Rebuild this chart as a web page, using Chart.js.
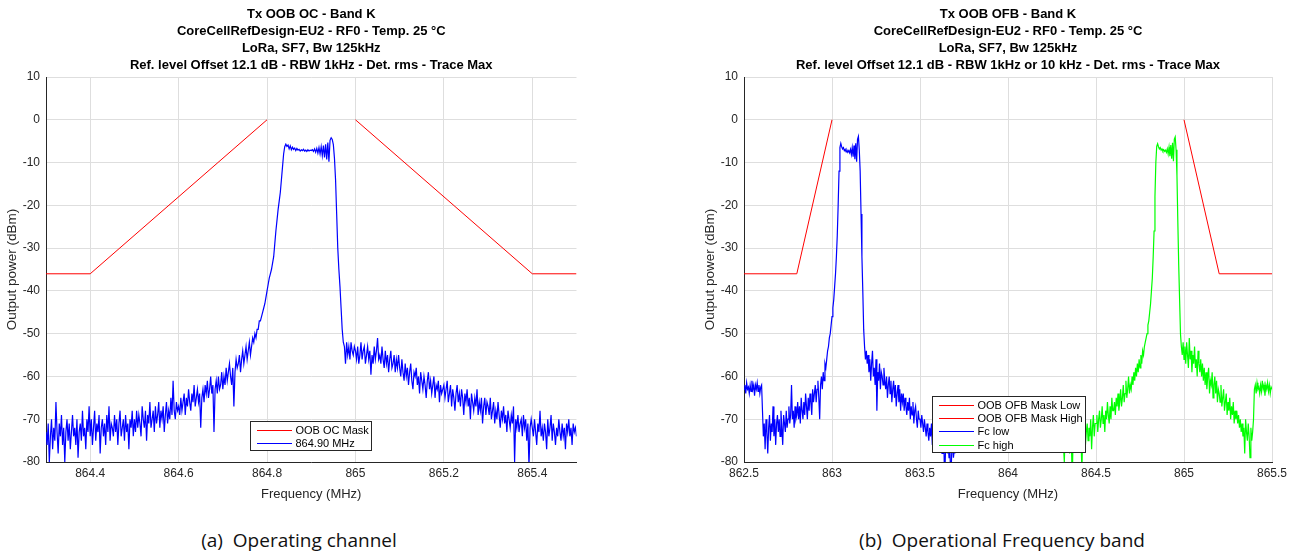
<!DOCTYPE html>
<html><head><meta charset="utf-8">
<script src="https://cdn.jsdelivr.net/npm/chart.js@4.4.1/dist/chart.umd.min.js"></script>
<style>
html,body{margin:0;padding:0;background:#fff;}
body{width:1298px;height:555px;position:relative;overflow:hidden;}
#w1{position:absolute;left:0;top:0;width:620px;height:505px;}
#w2{position:absolute;left:698px;top:0;width:600px;height:505px;}
.cap{position:absolute;top:528px;font-family:"Open Sans",sans-serif;font-size:19px;line-height:24px;color:#111;white-space:pre;transform:translateX(-50%);}
</style></head>
<body>
<div id="w1"><canvas id="c1" width="620" height="505" style="width:620px;height:505px"></canvas></div>
<div id="w2"><canvas id="c2" width="600" height="505" style="width:600px;height:505px"></canvas></div>
<div class="cap" style="left:299px">(a)  Operating channel</div>
<div class="cap" style="left:1002px">(b)  Operational Frequency band</div>
<script>
// ---------- Data ----------
const titleA = ["Tx OOB OC - Band K","CoreCellRefDesign-EU2 - RF0 - Temp. 25 \u00B0C","LoRa, SF7, Bw 125kHz","Ref. level Offset 12.1 dB - RBW 1kHz - Det. rms - Trace Max"];
const titleB = ["Tx OOB OFB - Band K","CoreCellRefDesign-EU2 - RF0 - Temp. 25 \u00B0C","LoRa, SF7, Bw 125kHz","Ref. level Offset 12.1 dB - RBW 1kHz or 10 kHz - Det. rms - Trace Max"];
const xLabel = "Frequency (MHz)";
const yLabel = "Output power (dBm)";
const yTicks = [-80,-70,-60,-50,-40,-30,-20,-10,0,10];
const xTicksA = [864.4,864.6,864.8,865,865.2,865.4];
const xTicksB = [862.5,863,863.5,864,864.5,865,865.5];

// (a) mask
const maskAFreq  = [864.3,864.4,864.8,864.9,865.0,865.4,865.5];
const maskALevel = [-36,-36,0,null,0,-36,-36];
// (a) trace 864.90 MHz : sweep start / step (MHz) and measured power (dBm)
const traceAStart = 864.3, traceAStep = 0.0025;
const traceAPower = [
 -73,-76,-71,-80,-74,-70,-77,-72,-75,-66,-73,-78,-71,-74,-69,-76,-72,-80,-73,-70,
 -75,-71,-77,-73,-69,-74,-72,-76,-70,-79,-73,-71,-75,-68,-74,-72,-77,-70,-73,-67,
 -74,-70,-76,-72,-68,-75,-71,-73,-69,-78,-72,-70,-74,-71,-76,-69,-73,-67,-75,-71,
 -72,-74,-69,-73,-70,-76,-71,-68,-74,-72,-70,-75,-69,-73,-71,-77,-70,-72,-68,-74,
 -70,-73,-68,-72,-69,-71,-74,-67,-70,-72,-68,-75,-69,-71,-66,-72,-70,-68,-73,-67,
 -71,-69,-66,-72,-68,-70,-67,-73,-69,-66,-71,-68,-70,-65,-69,-61,-68,-70,-66,-68,
 -67,-69,-65,-68,-66,-64,-69,-65,-67,-63,-66,-68,-64,-66,-62,-67,-65,-63,-66,-64,
 -72,-65,-63,-66,-62,-64,-61,-65,-63,-60,-64,-62,-73,-63,-61,-64,-60,-63,-62,-59,
 -63,-60,-62,-58,-61,-59,-57,-60,-62,-58,-67,-59,-56,-58,-57,-55,-59,-56,-54,-57,
 -55,-53,-56,-54,-52,-55,-53,-51,-52,-50,-51,-49,-49,-47,-47,-46,-45,-44,-43,-41.5,
 -40,-38.5,-37,-36,-35,-33.5,-32,-29,-26,-23.5,-21,-19,-17,-14,-11,-8,-6.3,-5.7,-6.2,-5.9,
 -6.8,-6.1,-7.0,-6.4,-6.9,-6.6,-7.2,-6.7,-7.1,-6.9,-7.3,-7.0,-7.2,-6.9,-7.3,-7.1,-7.4,-7.0,-7.3,-7.1,
 -7.2,-7.0,-7.4,-6.8,-7.6,-6.7,-7.8,-6.5,-8.0,-6.3,-8.4,-6.0,-8.8,-5.7,-9.3,-5.3,-9.8,-4.8,-4.2,-4.6,
 -5.8,-9,-14,-22,-30,-35,-39,-44,-49,-52,-53,-57,-52,-55,-53,-56,-52,-54,-55,-53,
 -54,-56,-53,-57,-55,-52,-56,-54,-53,-57,-55,-53,-56,-54,-59.6,-55,-57,-53,-56,-54,
 -51,-56,-55,-57,-53,-56,-58,-54,-57,-55,-59,-56,-54,-58,-57,-55,-59,-56,-58,-55,
 -58,-60,-56,-59,-61,-57,-60,-58,-62,-59,-57,-61,-63,-59,-60,-58,-62,-60,-64,-59,
 -61,-63,-60,-62,-65,-61,-59,-63,-61,-64,-62,-60,-65,-62,-63,-61,-66,-62,-64,-63,
 -62,-65,-63,-61,-66,-64,-62,-67,-63,-65,-68,-64,-62,-66,-64,-67,-63,-65,-69,-64,
 -66,-63,-67,-65,-70,-64,-66,-68,-65,-67,-63,-69,-66,-68,-65,-71,-67,-65,-69,-66,
 -67,-69,-65,-70,-68,-66,-71,-68,-70,-66,-69,-72,-68,-70,-67,-71,-69,-73,-68,-70,
 -72,-69,-71,-67,-80,-70,-72,-69,-73,-71,-70,-74,-69,-72,-70,-75,-71,-81,-72,-70,
 -72,-74,-70,-73,-76,-71,-73,-68,-74,-72,-75,-71,-73,-77,-70,-74,-72,-69,-75,-71,
 -73,-76,-72,-74,-70,-73,-75,-71,-74,-72,-77,-71,-73,-70,-74,-72,-76,-71,-73,-72,-74
];

// (b) masks
const maskLowFreq   = [862.5,862.8,863.0];
const maskLowLevel  = [-36,-36,0];
const maskHighFreq  = [865.0,865.2,865.5];
const maskHighLevel = [0,-36,-36];
// (b) Fc low trace
const fcLowStart = 862.5, fcLowStep = 0.005;
const fcLowPower = [
 -63,-62,-64,-61.5,-63,-62.5,-64,-62,-63.5,-61,-63,-62,-64.5,-62,-63,-61.5,-63.5,-62,-64,-62.5,
 -62,-68,-74,-71,-77,-70,-73,-78,-72,-69,-75,-71,-73,-67,-74,-70,-76,-71,-69,-73,
 -70,-74,-68,-72,-76,-69,-71,-73,-68,-72,-70,-67,-71,-69,-62,-70,-68,-72,-67,-70,
 -69,-66,-70,-67,-71,-65,-68,-70,-66,-69,-64,-67,-70,-65,-68,-64,-66,-69,-63,-66,
 -64,-62,-66,-63,-61,-65,-70,-62,-60,-63,-59,-61,-57,-58,-56,-54,-53,-51,-50,-48,
 -46,-44,-42,-39,-36,-32,-27,-20,-12,-6.5,-5.5,-6.3,-6.8,-6.5,-7.2,-6.9,-7.5,-7.1,-7.6,-7.2,
 -7.7,-6.9,-8.1,-6.5,-8.6,-6.0,-9.2,-5.5,-9.8,-4.6,-3.9,-7,-12,-22,-32,-40,-49,-53,-56,-54,
 -57,-55,-59,-56,-61,-57,-54,-60,-58,-62,-56,-68,-59,-61,-57,-63,-59,-60,-62,-58,
 -61,-63,-60,-65,-62,-60,-64,-61,-66,-63,-61,-65,-62,-67,-64,-62,-66,-63,-68,-64,
 -66,-64,-68,-65,-67,-69,-66,-68,-65,-70,-67,-69,-66,-71,-68,-67,-70,-72,-68,-70,
 -70,-72,-69,-71,-73,-70,-72,-74,-71,-73,-75,-72,-74,-71,-76,-73,-75,-72,-77,-74,
 -74,-76,-73,-77,-75,-78,-76,-74,-85,-77,-75,-78,-76,-79,-77,-85,-78,-76,-79,-77,-78
];
// (b) Fc high trace
const fcHighStart = 864.3, fcHighStep = 0.005;
const fcHighPower = [
 -74,-77,-72,-76,-80,-73,-75,-71,-77,-74,-78,-72,-75,-85,-73,-76,-74,-71,-77,-75,
 -73,-76,-71,-75,-82,-72,-74,-70,-76,-73,-71,-75,-72,-74,-70,-77,-72,-69,-74,-71,
 -71,-69,-73,-70,-68,-72,-70,-67,-71,-69,-73,-68,-70,-66,-69,-71,-67,-70,-65,-68,
 -68,-66,-69,-65,-67,-64,-68,-66,-63,-67,-65,-62,-66,-64,-61,-65,-63,-60,-64,-62,
 -63,-60,-62,-59,-61,-58,-60,-57,-59,-56,-58,-55,-57,-54,-55,-53,-52,-51,-50,-48,
 -47,-45,-43,-40,-37,-32,-26,-18,-10,-6.2,-5.6,-6.3,-6.8,-6.5,-7.1,-6.8,-7.3,-7.0,-7.4,-7.1,
 -7.6,-6.8,-8.0,-6.4,-8.5,-5.9,-9.1,-5.4,-9.7,-4.5,-4.0,-7,-13,-24,-34,-42,-50,-53,-55,-52,
 -56,-53,-57,-52,-55,-58,-51,-56,-54,-59,-55,-57,-53,-58,-56,-60,-54,-57,-59,-56,
 -60,-57,-61,-58,-62,-59,-63,-60,-58,-64,-61,-62,-59,-65,-62,-60,-64,-61,-66,-63,
 -64,-66,-62,-67,-65,-63,-68,-66,-64,-69,-66,-68,-65,-70,-67,-69,-66,-71,-68,-70,
 -68,-71,-69,-72,-70,-73,-71,-74,-72,-78,-70,-73,-75,-71,-74,-79,-72,-75,-73,-70,
 -63,-62,-64,-61.5,-63,-62.5,-64,-62,-63.5,-61,-63,-62,-64.5,-62,-63,-61.5,-63.5,-62,-64,-62.5,-63
];

// ---------- Helpers ----------
const pairs = (xs, ys) => xs.map((x,i) => ({x:x, y:ys[i]}));
const sweep = (start, step, ys) => ys.map((y,i) => ({x: start + i*step, y:y}));
const fmt = v => String(+Number(v).toFixed(3));

Chart.defaults.font.family = '"Liberation Sans", Arial, Helvetica, sans-serif';
Chart.defaults.color = '#262626';

const innerLegend = {
  id: 'innerLegend',
  afterDraw(chart, args, opts) {
    const {ctx, chartArea} = chart;
    const items = chart.data.datasets;
    ctx.save();
    ctx.font = '11px "Liberation Sans", Arial, sans-serif';
    const rowH = 13.4, top0 = 8.5;
    let maxW = 0;
    items.forEach(d => { maxW = Math.max(maxW, ctx.measureText(d.label).width); });
    const w = Math.round(45 + maxW + 3);
    const h = Math.round(top0*2 + rowH*(items.length-1) - 1);
    const x = Math.round(chartArea.left + opts.dx);
    const y = Math.round(chartArea.bottom - opts.dy - h);
    ctx.fillStyle = '#ffffff';
    ctx.fillRect(x, y, w, h);
    ctx.strokeStyle = '#262626';
    ctx.lineWidth = 1;
    ctx.strokeRect(x + 0.5, y + 0.5, w, h);
    items.forEach((d,i) => {
      const cy = Math.round(y + top0 + i*rowH);
      ctx.fillStyle = d.borderColor;
      ctx.fillRect(x + 7, cy, 35, 1);
      ctx.fillStyle = '#000000';
      ctx.textBaseline = 'middle';
      ctx.textAlign = 'left';
      ctx.fillText(d.label, x + 45.5, cy + 0.5);
    });
    ctx.restore();
  }
};

function makeOptions(title, xMin, xMax, xTicks, padRight, legendPos) {
  return {
    responsive: false, animation: false, devicePixelRatio: 1,
    layout: { padding: { left: 0, right: padRight, top: 0, bottom: 0 } },
    plugins: {
      legend: { display: false },
      tooltip: { enabled: false },
      title: {
        display: true, text: title, fullSize: false, color: '#000',
        font: { size: 13, weight: 'bold', lineHeight: 1.285 },
        padding: { top: 6.5, bottom: 3.7 }
      },
      innerLegend: legendPos
    },
    elements: { point: { radius: 0 }, line: { tension: 0, borderWidth: 1 } },
    scales: {
      x: {
        type: 'linear', min: xMin, max: xMax,
        afterBuildTicks: s => { s.ticks = xTicks.map(v => ({ value: v })); },
        afterFit: s => { s.height = 43; },
        grid: { color: '#dedede', lineWidth: 1, drawTicks: false },
        border: { color: '#262626', width: 1 },
        ticks: { color: '#262626', font: { size: 12 }, padding: 4, maxRotation: 0, autoSkip: false, callback: v => fmt(v) },
        title: { display: true, text: xLabel, color: '#262626', font: { size: 13 }, padding: { top: 0, bottom: 3 } }
      },
      y: {
        type: 'linear', min: -80, max: 10,
        afterBuildTicks: s => { s.ticks = yTicks.map(v => ({ value: v })); },
        afterFit: s => { s.width = 46; },
        grid: { color: '#dedede', lineWidth: 1, drawTicks: false },
        border: { color: '#262626', width: 1 },
        ticks: { color: '#262626', font: { size: 12 }, padding: 6, autoSkip: false, callback: v => fmt(v) },
        title: { display: true, text: yLabel, color: '#262626', font: { size: 13.5 }, padding: { top: 4, bottom: 0 } }
      }
    }
  };
}

const ds = (label, data, color, order, width) => ({ label, data, order, borderColor: color, backgroundColor: color, borderWidth: width, pointRadius: 0, fill: false, spanGaps: false });

new Chart(document.getElementById('c1'), {
  type: 'line',
  data: { datasets: [
    ds('OOB OC Mask', pairs(maskAFreq, maskALevel), '#ff0000', 2, 1),
    ds('864.90 MHz', sweep(traceAStart, traceAStep, traceAPower), '#0000ff', 1, 1.2)
  ]},
  options: makeOptions(titleA, 864.3, 865.5, xTicksA, 43.5, { dx: 204, dy: 12 }),
  plugins: [innerLegend]
});

new Chart(document.getElementById('c2'), {
  type: 'line',
  data: { datasets: [
    ds('OOB OFB Mask Low', pairs(maskLowFreq, maskLowLevel), '#ff0000', 4, 1),
    ds('OOB OFB Mask High', pairs(maskHighFreq, maskHighLevel), '#ff0000', 3, 1),
    ds('Fc low', sweep(fcLowStart, fcLowStep, fcLowPower), '#0000ff', 2, 1.2),
    ds('Fc high', sweep(fcHighStart, fcHighStep, fcHighPower), '#00ff00', 1, 1.2)
  ]},
  options: makeOptions(titleB, 862.5, 865.5, xTicksB, 26, { dx: 188, dy: 10 }),
  plugins: [innerLegend]
});
</script>
</body></html>
